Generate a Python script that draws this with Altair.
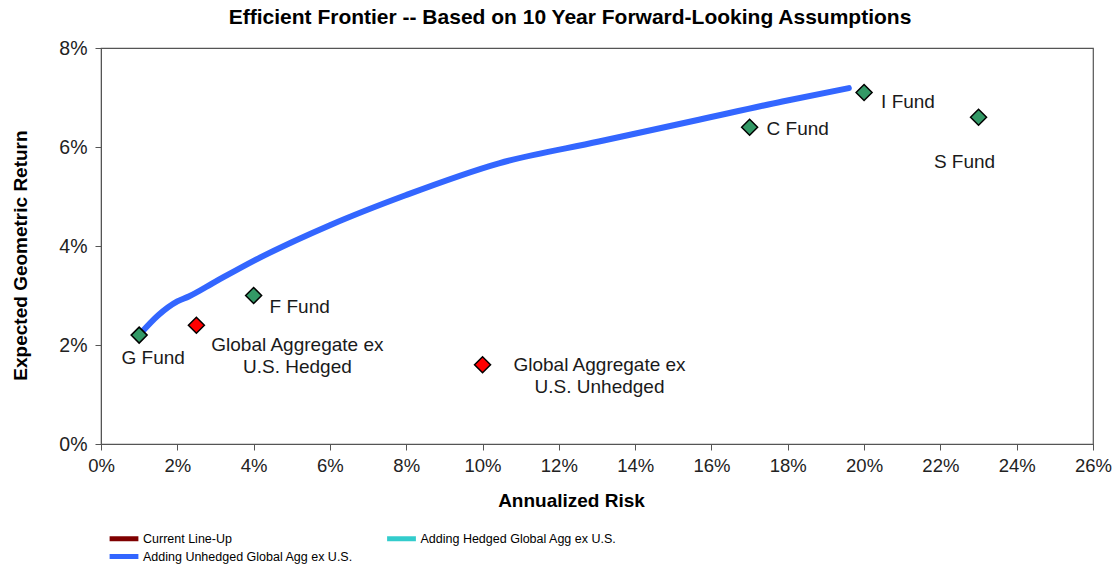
import altair as alt
import pandas as pd

# ---- data ----
fund_names = ["G Fund", "F Fund", "C Fund", "I Fund", "S Fund",
              "Global Aggregate ex\nU.S. Hedged", "Global Aggregate ex\nU.S. Unhedged"]
fund_risk = [1.0, 4.0, 17.0, 20.0, 23.0, 2.5, 10.0]
fund_return = [2.2, 3.0, 6.4, 7.1, 6.6, 2.4, 1.6]
fund_kind = ["core", "core", "core", "core", "core", "global", "global"]

frontier_risk = [1.0, 1.5, 2.0, 2.3, 3.0, 4.0, 6.0, 8.0, 10.43, 13.05, 15.67, 17.86, 19.6]
frontier_return = [2.2, 2.6, 2.88, 2.98, 3.28, 3.7, 4.42, 5.03, 5.67, 6.11, 6.55, 6.92, 7.19]

series_names = ["Current Line-Up", "Adding Hedged Global Agg ex U.S.",
                "Adding Unhedged Global Agg ex U.S."]
series_colors = ["#7F0000", "#33CCCC", "#3366FF"]

x_ticks = list(range(0, 27, 2))
y_ticks = [0, 2, 4, 6, 8]

funds = pd.DataFrame({"name": fund_names, "risk": fund_risk, "ret": fund_return, "kind": fund_kind})
frontier = pd.DataFrame({"risk": frontier_risk, "ret": frontier_return,
                         "series": series_names[2]})

FONT = "Liberation Sans, Arial, Helvetica, sans-serif"

x_scale = alt.Scale(domain=[0, 26], nice=False, zero=True)
y_scale = alt.Scale(domain=[0, 8], nice=False, zero=True)

x_enc = alt.X("risk:Q", scale=x_scale,
              axis=alt.Axis(values=x_ticks, labelExpr="datum.value + '%'", labelFlush=False,
                            title="Annualized Risk", titleX=470, titleY=56,
                            titleBaseline="middle"))
y_enc = alt.Y("ret:Q", scale=y_scale,
              axis=alt.Axis(values=y_ticks, labelExpr="datum.value + '%'", labelFlush=False,
                            title="Expected Geometric Return", titleX=-81, titleY=207,
                            titleBaseline="middle"))

line = alt.Chart(frontier).mark_line(strokeWidth=6, strokeCap="round", strokeJoin="round",
                                     interpolate="monotone").encode(
    x=x_enc, y=y_enc,
    color=alt.Color("series:N",
                    scale=alt.Scale(domain=series_names, range=series_colors),
                    legend=alt.Legend(
                        title=None, orient="none", legendX=16.5, legendY=484,
                        direction="horizontal", columns=2, columnPadding=23.5,
                        rowPadding=-3, padding=0,
                        symbolType="M-3.6,0H3.6", symbolSize=64, symbolStrokeWidth=5,
                        symbolFillColor="transparent",
                        labelFont=FONT, labelFontSize=12.5, labelColor="#000",
                        labelOffset=12.5, labelLimit=400)),
    order="risk:Q",
)

points = alt.Chart(funds).mark_point(shape="diamond", filled=True, size=256, opacity=1,
                                      stroke="black", strokeWidth=1.5).encode(
    x="risk:Q", y="ret:Q",
    fill=alt.Fill("kind:N", scale=alt.Scale(domain=["core", "global"],
                                            range=["#339966", "#FF0000"]), legend=None),
)


def label(name, dx, dy, align):
    return alt.Chart(funds).transform_filter(alt.datum.name == name).mark_text(
        dx=dx, dy=dy, align=align, baseline="middle", fontSize=19, font=FONT,
        color="#1a1a1a", lineBreak="\n", lineHeight=22).encode(
        x="risk:Q", y="ret:Q", text="name:N")


labels = [
    label(fund_names[0], 14, 23, "center"),
    label(fund_names[1], 16, 11, "left"),
    label(fund_names[2], 17, 2, "left"),
    label(fund_names[3], 17, 9, "left"),
    label(fund_names[4], -14, 45, "center"),
    label(fund_names[5], 101, 20, "center"),
    label(fund_names[6], 117, 0, "center"),
]

chart = alt.layer(line, points, *labels).properties(
    width=992, height=396,
    padding={"left": 93, "top": 40, "right": 19, "bottom": 120},
    autosize=alt.AutoSizeParams(type="none"),
    title=alt.TitleParams("Efficient Frontier -- Based on 10 Year Forward-Looking Assumptions",
                          font=FONT, fontSize=21, fontWeight="bold", color="#000",
                          anchor="middle", dx=-27, offset=10),
).configure_view(stroke="#555", strokeWidth=1.2).configure_axis(
    grid=False, labelFont=FONT, labelFontSize=18.5, labelColor="#222",
    tickColor="#555", domainColor="#555", tickSize=6, labelPadding=6,
    titleFont=FONT, titleFontSize=19, titleFontWeight="bold", titleColor="#000",
).configure_axisY(labelPadding=8, labelFontSize=19.5)

chart.save("out.html", embed_options={"renderer": "svg", "actions": False})
